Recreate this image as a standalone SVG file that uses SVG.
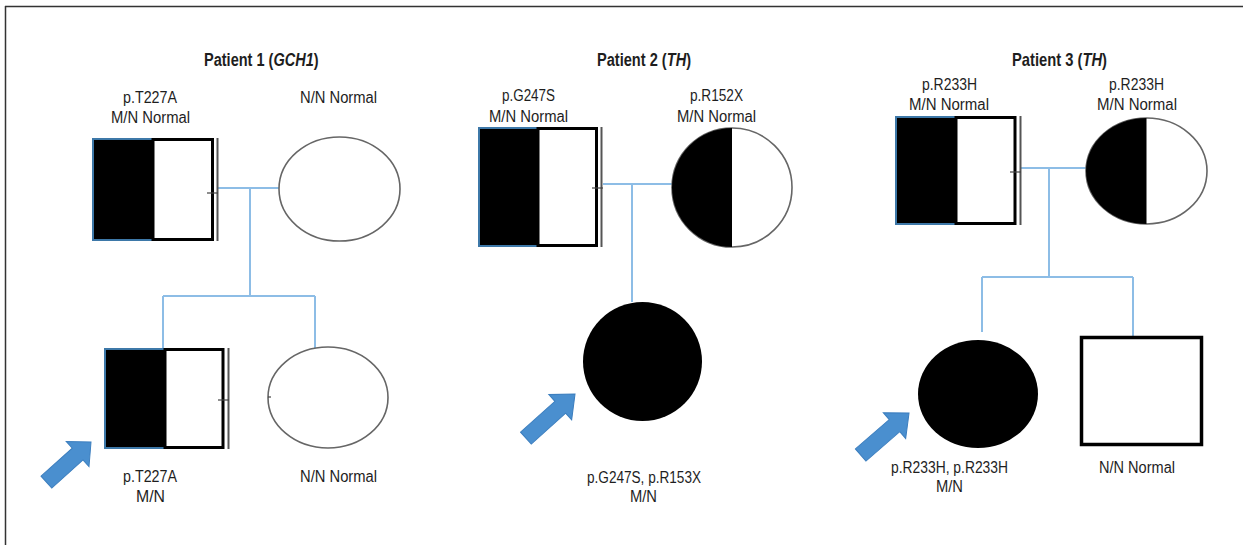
<svg xmlns="http://www.w3.org/2000/svg" width="1243" height="545" viewBox="0 0 1243 545">
<defs>
<style>
text{font-family:"Liberation Sans",Arial,sans-serif;fill:#1e1e1e}
.t{font-size:18.5px;font-weight:bold}
.it{font-style:italic}
.l{font-size:16px}
.bl{fill:#000;stroke:#3d78a8;stroke-width:2}
.wh{fill:#fff;stroke:#000;stroke-width:3}
.dl{stroke:#555;stroke-width:2}
.tk{stroke:#444;stroke-width:1.2}
.ell{fill:#fff;stroke:#666;stroke-width:1.6}
.hf{fill:#000}
.con{fill:none;stroke:#8dbde6;stroke-width:2}
.arr{fill:#4a8fcf;stroke:#3d7fbf;stroke-width:1}
</style>
<path id="arrow" d="M0,-8 L42,-8 L42,-17 L60,0 L42,17 L42,8 L0,8 Z"/>
</defs>
<rect width="1243" height="545" fill="#fff"/>
<g id="frame" stroke="#333" stroke-width="1.5">
<line x1="5" y1="6.5" x2="1243" y2="6.5"/>
<line x1="5.5" y1="6" x2="5.5" y2="545"/>
</g>

<g id="connectors">
<path class="con" d="M218,188 H279 M250,188 V296 M163,296 H315 M163,296 V348 M315,296 V352"/>
<path class="con" d="M603,184 H672 M632,184 V302"/>
<path class="con" d="M1021,168 H1086 M1049,168 V277 M982,277 H1133 M982,277 V332 M1133,277 V336"/>
</g>

<g id="p1-title">
<text class="t" transform="translate(204,66) scale(0.785,1)">Patient 1 (<tspan class="it">GCH1</tspan>)</text>
</g>

<g id="p1-father">
<rect class="bl" x="93" y="139" width="60" height="101"/>
<rect class="wh" x="153" y="139.5" width="59.5" height="100"/>
<line class="dl" x1="217.5" y1="138" x2="217.5" y2="241"/>
<line class="tk" x1="207" y1="193" x2="218" y2="193"/>
<text class="l" x="123" y="103" textLength="54" lengthAdjust="spacingAndGlyphs">p.T227A</text>
<text class="l" x="111" y="123" textLength="79" lengthAdjust="spacingAndGlyphs">M/N Normal</text>
</g>

<g id="p1-mother">
<ellipse class="ell" cx="339.5" cy="189" rx="60.5" ry="52"/>
<text class="l" x="300" y="103" textLength="77" lengthAdjust="spacingAndGlyphs">N/N Normal</text>
</g>

<g id="p1-son">
<rect class="bl" x="105" y="349" width="60" height="99"/>
<rect class="wh" x="165" y="349.5" width="58" height="98"/>
<line class="dl" x1="228.5" y1="348" x2="228.5" y2="449"/>
<line class="tk" x1="218" y1="400" x2="229" y2="400"/>
<text class="l" x="123" y="482" textLength="54" lengthAdjust="spacingAndGlyphs">p.T227A</text>
<text class="l" x="136" y="502" textLength="29" lengthAdjust="spacingAndGlyphs">M/N</text>
</g>

<g id="p1-daughter">
<ellipse class="ell" cx="328" cy="397.5" rx="60" ry="50.5"/>
<line class="tk" x1="268" y1="397" x2="271" y2="397"/>
<text class="l" x="300" y="482" textLength="77" lengthAdjust="spacingAndGlyphs">N/N Normal</text>
</g>

<g id="p1-arrow"><use href="#arrow" class="arr" transform="translate(91,442) rotate(-42) translate(-60,0)"/></g>

<g id="p2-title">
<text class="t" transform="translate(597,66) scale(0.789,1)">Patient 2 (<tspan class="it">TH</tspan>)</text>
</g>

<g id="p2-father">
<rect class="bl" x="479" y="128" width="59" height="118"/>
<rect class="wh" x="538" y="128.5" width="58.5" height="117"/>
<line class="dl" x1="601.5" y1="127" x2="601.5" y2="247"/>
<line class="tk" x1="592" y1="188" x2="603" y2="188"/>
<text class="l" x="502" y="101" textLength="53" lengthAdjust="spacingAndGlyphs">p.G247S</text>
<text class="l" x="489" y="122" textLength="79" lengthAdjust="spacingAndGlyphs">M/N Normal</text>
</g>

<g id="p2-mother">
<ellipse class="ell" cx="732" cy="187.5" rx="60" ry="59.5"/>
<path class="hf" d="M732,128 A60,59.5 0 0 0 732,247 Z"/>
<text class="l" x="690" y="101" textLength="53" lengthAdjust="spacingAndGlyphs">p.R152X</text>
<text class="l" x="677" y="122" textLength="79" lengthAdjust="spacingAndGlyphs">M/N Normal</text>
</g>

<g id="p2-child">
<ellipse cx="642.5" cy="361.5" rx="59.5" ry="59.5" fill="#000"/>
<text class="l" x="587" y="483" textLength="114" lengthAdjust="spacingAndGlyphs">p.G247S, p.R153X</text>
<text class="l" x="630" y="502" textLength="27" lengthAdjust="spacingAndGlyphs">M/N</text>
</g>

<g id="p2-arrow"><use href="#arrow" class="arr" transform="translate(575,394) rotate(-42) translate(-66,0) scale(1.1,1)"/></g>

<g id="p3-title">
<text class="t" transform="translate(1012,66) scale(0.797,1)">Patient 3 (<tspan class="it">TH</tspan>)</text>
</g>

<g id="p3-father">
<rect class="bl" x="896" y="117" width="60" height="107"/>
<rect class="wh" x="956" y="117.5" width="59" height="106"/>
<line class="dl" x1="1020.5" y1="116" x2="1020.5" y2="225"/>
<line class="tk" x1="1010" y1="172" x2="1021" y2="172"/>
<text class="l" x="922" y="90" textLength="55" lengthAdjust="spacingAndGlyphs">p.R233H</text>
<text class="l" x="909" y="110" textLength="80" lengthAdjust="spacingAndGlyphs">M/N Normal</text>
</g>

<g id="p3-mother">
<ellipse class="ell" cx="1146.5" cy="171" rx="60.5" ry="53"/>
<path class="hf" d="M1146.5,118 A60.5,53 0 0 0 1146.5,224 Z"/>
<text class="l" x="1109" y="90" textLength="55" lengthAdjust="spacingAndGlyphs">p.R233H</text>
<text class="l" x="1097" y="110" textLength="80" lengthAdjust="spacingAndGlyphs">M/N Normal</text>
</g>

<g id="p3-daughter">
<ellipse cx="978" cy="394" rx="60" ry="54" fill="#000"/>
<text class="l" x="891" y="473" textLength="117" lengthAdjust="spacingAndGlyphs">p.R233H, p.R233H</text>
<text class="l" x="936" y="492" textLength="27" lengthAdjust="spacingAndGlyphs">M/N</text>
</g>

<g id="p3-son">
<rect x="1081.5" y="337.5" width="120" height="107" fill="#fff" stroke="#000" stroke-width="3.5"/>
<text class="l" x="1099" y="473" textLength="76" lengthAdjust="spacingAndGlyphs">N/N Normal</text>
</g>

<g id="p3-arrow"><use href="#arrow" class="arr" transform="translate(909,413) rotate(-41) translate(-64,0) scale(1.067,1)"/></g>
</svg>
